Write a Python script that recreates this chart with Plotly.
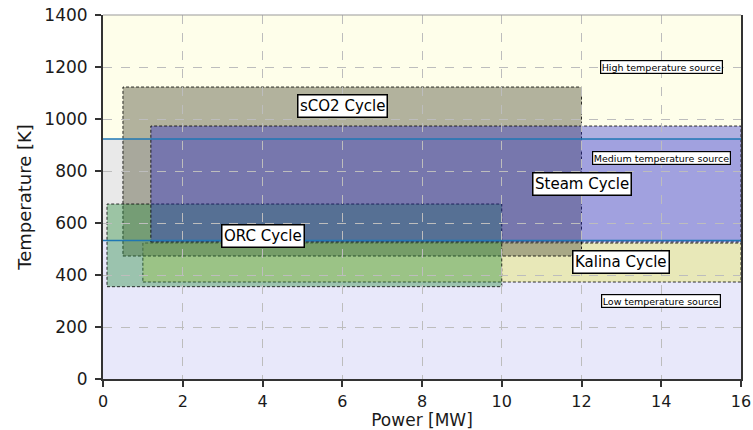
import plotly.graph_objects as go

# Heat source temperature bands (K)
sources = ["Low temperature source", "Medium temperature source", "High temperature source"]
source_bounds = [0, 533, 923, 1400]
source_colors = ["#e8e8fa", "#e9e9e9", "#fefeea"]
source_label_x = [14, 14, 14]
source_label_y = [300, 850, 1200]

# Power cycle operating windows: power range (MW) and temperature range (K)
cycles = ["Kalina Cycle", "sCO2 Cycle", "ORC Cycle", "Steam Cycle"]
p_min = [1.0, 0.5, 0.1, 1.2]
p_max = [16, 12, 10, 16]
t_min = [373, 473, 355, 527]
t_max = [523, 1123, 673, 973]
cycle_colors = ["rgba(232,232,100,0.44)", "rgba(115,115,92,0.55)",
                "rgba(40,140,60,0.40)", "rgba(30,30,205,0.35)"]
label_x = [13, 6, 4, 12]
label_y = [450, 1050, 550, 750]

x_range = [0, 16]
y_range = [0, 1400]
x_ticks = list(range(0, 17, 2))
y_ticks = list(range(0, 1401, 200))

fig = go.Figure()
# invisible trace so axes are established
fig.add_trace(go.Scatter(x=x_range, y=y_range, mode="markers",
                         marker=dict(opacity=0), hoverinfo="skip", showlegend=False))

shapes = []
for i, name in enumerate(sources):
    shapes.append(dict(type="rect", xref="x", yref="y", layer="below",
                       x0=x_range[0], x1=x_range[1],
                       y0=source_bounds[i], y1=source_bounds[i + 1],
                       fillcolor=source_colors[i], line=dict(width=0)))

for i, name in enumerate(cycles):
    shapes.append(dict(type="rect", xref="x", yref="y", layer="below",
                       x0=p_min[i], x1=p_max[i], y0=t_min[i], y1=t_max[i],
                       fillcolor=cycle_colors[i],
                       line=dict(color="rgba(0,0,0,0.8)", width=1, dash="3px,2px")))

# boundaries between source bands
for yb in source_bounds[1:-1]:
    shapes.append(dict(type="line", xref="x", yref="y", layer="between",
                       x0=x_range[0], x1=x_range[1], y0=yb, y1=yb,
                       line=dict(color="#1f77b4", width=1.5)))

# top frame line
shapes.append(dict(type="line", xref="paper", yref="paper", layer="above",
                   x0=0, x1=1, y0=1, y1=1, line=dict(color="#9a9a9a", width=1.2)))

fig.update_layout(shapes=shapes)

for i, name in enumerate(cycles):
    fig.add_annotation(x=label_x[i], y=label_y[i], text=name, showarrow=False,
                       font=dict(family="DejaVu Sans", size=15, color="black"),
                       bgcolor="white", bordercolor="black", borderwidth=1.5, borderpad=1.5)

for i, name in enumerate(sources):
    fig.add_annotation(x=source_label_x[i], y=source_label_y[i], text=name, showarrow=False,
                       font=dict(family="DejaVu Sans", size=9.5, color="black"),
                       bgcolor="white", bordercolor="black", borderwidth=1.2, borderpad=0.5)

axis_common = dict(
    showgrid=True, gridcolor="#bdbdbd", gridwidth=1, griddash="dash",
    zeroline=False, showline=True, linecolor="#333333", linewidth=2,
    ticks="outside", ticklen=6, tickwidth=1.5, tickcolor="#333333",
    automargin=False,
)

fig.update_xaxes(range=x_range, tickvals=x_ticks, mirror=False,
                 ticklabelstandoff=1,
                 tickfont=dict(family="DejaVu Sans", size=16, color="#1a1a1a"),
                 title=dict(text="Power [MW]", standoff=2,
                            font=dict(family="DejaVu Sans", size=17, color="#1a1a1a")),
                 **axis_common)
fig.update_yaxes(range=y_range, tickvals=y_ticks, mirror=True,
                 ticklabelstandoff=4,
                 tickfont=dict(family="DejaVu Sans", size=17, color="#1a1a1a"),
                 title=dict(text="Temperature [K]", standoff=8,
                            font=dict(family="DejaVu Sans", size=18, color="#1a1a1a")),
                 **axis_common)

fig.update_layout(
    width=753, height=430,
    margin=dict(l=103, r=12, t=15, b=51),
    paper_bgcolor="white", plot_bgcolor="white",
    showlegend=False,
    font=dict(family="DejaVu Sans"),
)

fig.write_html("out.html")
